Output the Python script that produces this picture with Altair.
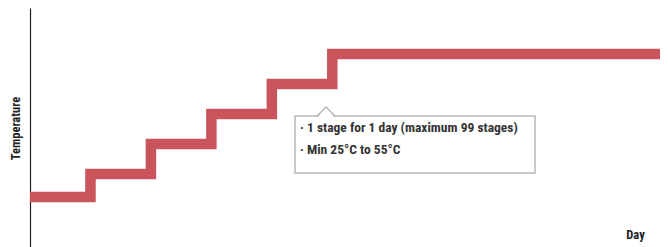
import altair as alt
import pandas as pd

# Data (unlabelled temperature scale, day index)
days = [0, 1, 2, 3, 4, 5, 10.42]
temps = [1.67, 2.44, 3.45, 4.45, 5.46, 6.46, 6.46]
notes = ["· 1 stage for 1 day (maximum 99 stages)", "· Min 25°C to 55°C"]

FONT = "Roboto Condensed, Roboto, sans-serif"
RED = "#c9545b"

df = pd.DataFrame({"day": days, "temp": temps})
one = pd.DataFrame({"k": [0]})
note_df = pd.DataFrame({"note": ["\n".join(notes)]})

W, H = 630, 239
xs = alt.Scale(domain=[0, 10.42], nice=False, zero=False)
ys = alt.Scale(domain=[0, 8], nice=False, zero=False)

steps = alt.Chart(df).mark_line(
    interpolate="step-after", strokeWidth=10.5, color=RED,
    strokeJoin="miter", strokeCap="butt", clip=True
).encode(
    x=alt.X("day:Q", scale=xs, axis=alt.Axis(
        title="Day", domain=False, ticks=False, labels=False, grid=False,
        titleX=605, titleY=-13, titleAlign="center", titleBaseline="middle",
        titleFont=FONT, titleFontSize=12.5, titleFontWeight="bold", titleColor="#222")),
    y=alt.Y("temp:Q", scale=ys, axis=alt.Axis(
        title="Temperature", domain=True, domainColor="#222", domainWidth=1.2,
        ticks=False, labels=False, grid=False,
        titleX=-15, titleY=120, titleAngle=270, titleAlign="center", titleBaseline="middle",
        titleFont=FONT, titleFontSize=12.5, titleFontWeight="bold", titleColor="#222")),
)

box = alt.Chart(one).mark_rect(
    fill="white", stroke="#b8b8b8", strokeWidth=1.5
).encode(x=alt.value(265), x2=alt.value(505), y=alt.value(108), y2=alt.value(165))

pointer_fill = alt.Chart(one).mark_point(
    shape="M-1,1.3L0,0L1,1.3Z", filled=True, fill="white", stroke=None,
    size=380, opacity=1
).encode(x=alt.value(296), y=alt.value(99))

pointer_stroke = alt.Chart(one).mark_point(
    shape="M-1,1L0,0L1,1", filled=False, stroke="#b8b8b8", strokeWidth=1.5,
    size=380, opacity=1
).encode(x=alt.value(296), y=alt.value(99))

text = alt.Chart(note_df).mark_text(
    align="left", baseline="middle", lineBreak="\n", lineHeight=22,
    font=FONT, fontSize=13.5, fontWeight="bold", color="#333"
).encode(x=alt.value(270), y=alt.value(120), text="note:N")

chart = alt.layer(steps, box, pointer_fill, pointer_stroke, text).properties(
    width=W, height=H,
    autosize=alt.AutoSizeParams(type="none"),
    padding={"left": 22, "top": 0, "right": 0, "bottom": 0},
).configure_view(stroke=None)

chart.save("out.html", embed_options={"renderer": "svg", "actions": False})
